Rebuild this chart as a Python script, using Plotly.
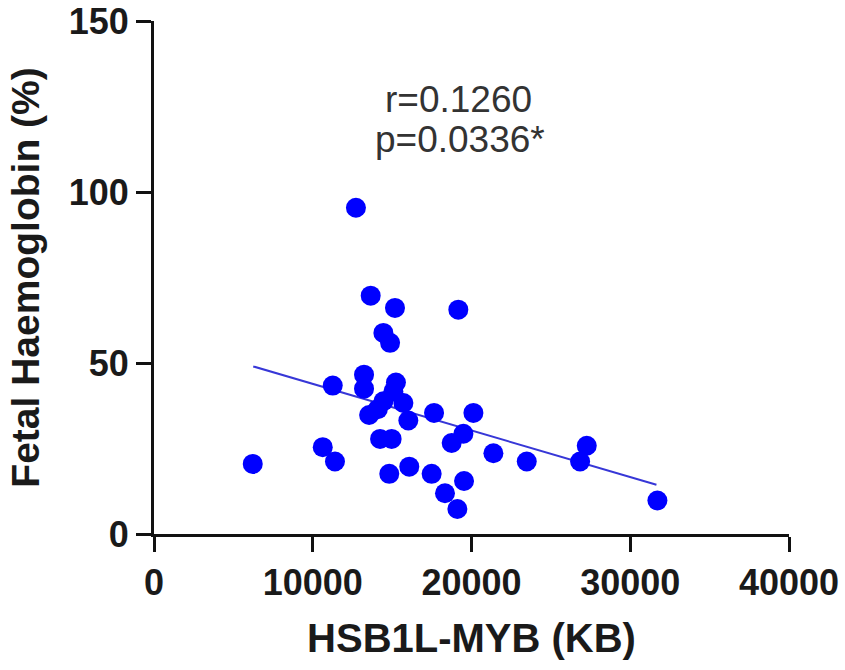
import plotly.graph_objects as go

# Data
hsb1l_myb_kb = [6220, 10630, 11260, 11400, 12720, 13230, 13230, 13650, 13550, 14100,
                14450, 14450, 14870, 15180, 15240, 15080, 15710, 16020, 14240, 14970,
                14820, 16080, 17490, 17640, 18330, 18750, 19110, 19170, 19490, 19530,
                20120, 21380, 23480, 26840, 27260, 31710]
fetal_hb_pct = [20.5, 25.4, 43.4, 21.2, 95.4, 46.6, 42.5, 69.7, 34.8, 36.5,
                38.8, 58.8, 55.9, 66.1, 44.3, 41.7, 38.3, 33.2, 27.8, 27.8,
                17.6, 19.7, 17.6, 35.4, 11.9, 26.6, 7.3, 65.6, 29.3, 15.5,
                35.4, 23.6, 21.2, 21.2, 25.8, 9.8]

fit_x = [6250, 31650]
fit_y = [49.0, 14.4]

x_ticks = [0, 10000, 20000, 30000, 40000]
y_ticks = [0, 50, 100, 150]

stats_text = ["r=0.1260", "p=0.0336*"]

FONT = "Liberation Sans, Arial, Helvetica, sans-serif"

fig = go.Figure()
fig.add_trace(go.Scatter(
    x=fit_x, y=fit_y, mode="lines",
    line=dict(color="rgb(55,55,215)", width=2),
    showlegend=False, hoverinfo="skip"))
fig.add_trace(go.Scatter(
    x=hsb1l_myb_kb, y=fetal_hb_pct, mode="markers",
    marker=dict(color="#0000FF", size=20, line=dict(width=0)),
    showlegend=False))

fig.add_annotation(x=19150, y=127, xref="x", yref="y", text=stats_text[0],
                   showarrow=False, font=dict(family=FONT, size=37, color="#333333"))
fig.add_annotation(x=19300, y=115.3, xref="x", yref="y", text=stats_text[1],
                   showarrow=False, font=dict(family=FONT, size=37, color="#333333"))

axis_common = dict(
    showgrid=False, zeroline=False, showline=True, linecolor="#111111", linewidth=3,
    ticks="outside", ticklen=15, tickwidth=3, tickcolor="#111111", automargin=False,
    tickfont=dict(family=FONT, size=36, color="#1a1a1a", weight="bold"),
)

fig.update_xaxes(range=[0, 40000], tickvals=x_ticks, ticktext=[str(v) for v in x_ticks],
                 title=dict(text="HSB1L-MYB (KB)", standoff=22,
                            font=dict(family=FONT, size=40, color="#1a1a1a", weight="bold")),
                 **axis_common)
fig.update_yaxes(range=[0, 150], tickvals=y_ticks, ticktext=[str(v) for v in y_ticks],
                 title=dict(text="Fetal Haemoglobin (%)", standoff=18,
                            font=dict(family=FONT, size=39, color="#1a1a1a", weight="bold")),
                 **axis_common)

fig.update_layout(
    width=845, height=670,
    margin=dict(l=154, r=56, t=21, b=136),
    plot_bgcolor="white", paper_bgcolor="white",
)

fig.write_html("out.html")
